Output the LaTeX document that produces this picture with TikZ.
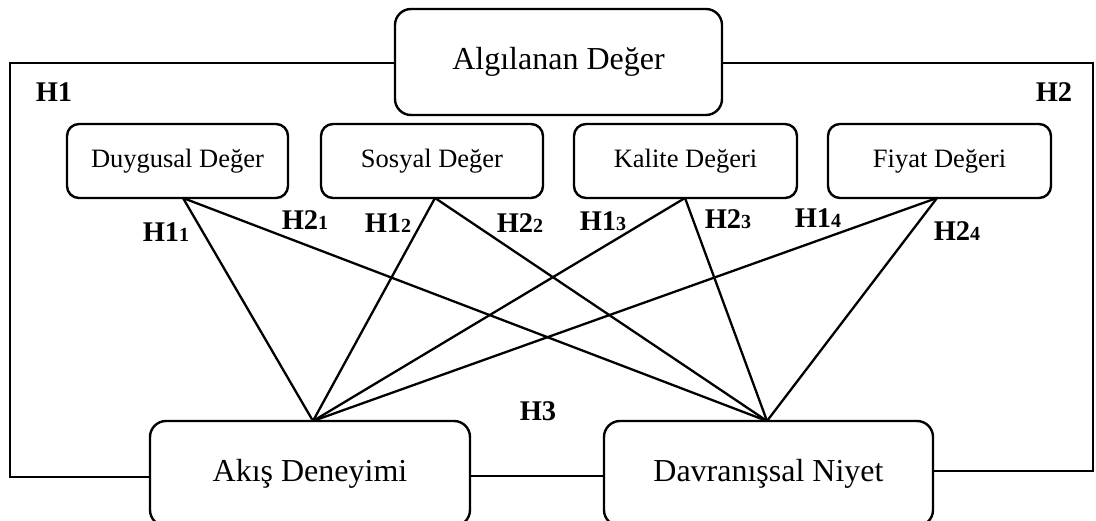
\documentclass[tikz,border=0pt]{standalone}
\usepackage{fontspec}
\setmainfont{Liberation Serif}
\newcommand\hyp[2]{\textbf{#1}{\fontsize{20}{20}\selectfont\bfseries #2}}
\begin{document}
\begin{tikzpicture}[x=1pt,y=-1pt,
  box/.style={draw,line width=2.4pt,rounded corners=12pt,inner sep=0pt,align=center,font=\fontsize{26.5}{30}\selectfont},
  bigbox/.style={box,rounded corners=16pt,font=\fontsize{32}{38}\selectfont},
  link/.style={line width=2.3pt},
  frame/.style={line width=2.4pt},
  hlab/.style={inner sep=0pt,font=\fontsize{28.5}{30}\selectfont}]
\useasboundingbox (0,0) rectangle (1096,521);
\begin{scope}
\clip (0,0) rectangle (1096,521);
\node[bigbox,minimum width=327pt,minimum height=106pt] (alg) at (558.5,62) {Algılanan Değer};
\node[box,minimum width=221pt,minimum height=74pt] (duy) at (177.5,161) {Duygusal Değer};
\node[box,minimum width=222pt,minimum height=74pt] (sos) at (432,161) {Sosyal Değer};
\node[box,minimum width=223pt,minimum height=74pt] (kal) at (685.5,161) {Kalite Değeri};
\node[box,minimum width=223pt,minimum height=74pt] (fiy) at (939.5,161) {Fiyat Değeri};
\node[bigbox,minimum width=320pt,minimum height=105pt] (aki) at (310,473.5) {\raisebox{-5pt}{Akış Deneyimi}};
\node[bigbox,minimum width=329pt,minimum height=105pt] (dav) at (768.5,473.5) {\raisebox{-5pt}{Davranışsal Niyet}};

\coordinate (duyS) at (183,198);
\coordinate (sosS) at (435,198);
\coordinate (kalS) at (685,198);
\coordinate (fiyS) at (937,198);
\coordinate (akiN) at (313,421);
\coordinate (davN) at (767,421);

\foreach \s in {duyS,sosS,kalS,fiyS}{
  \draw[link] (\s) -- (akiN);
  \draw[link] (\s) -- (davN);
}

\draw[frame] (alg.west |- 0,63) -| (10,477) -- (aki.west |- 0,477);
\draw[frame] (alg.east |- 0,63) -| (1093,471) -- (dav.east |- 0,471);
\draw[frame] (aki.east |- 0,476) -- (dav.west |- 0,476);

\node[hlab] (h1) at (54,92) {\textbf{H1}};
\node[hlab] (h2) at (1054,92) {\textbf{H2}};
\node[hlab] (h3) at (538,411) {\textbf{H3}};
\node[hlab] (h11) at (166,232) {\hyp{H1}{1}};
\node[hlab] (h21) at (305,220) {\hyp{H2}{1}};
\node[hlab] (h12) at (388,223) {\hyp{H1}{2}};
\node[hlab] (h22) at (520,223) {\hyp{H2}{2}};
\node[hlab] (h13) at (603,221) {\hyp{H1}{3}};
\node[hlab] (h23) at (728,219) {\hyp{H2}{3}};
\node[hlab] (h14) at (818,218) {\hyp{H1}{4}};
\node[hlab] (h24) at (957,231) {\hyp{H2}{4}};
\end{scope}
\end{tikzpicture}
\end{document}
